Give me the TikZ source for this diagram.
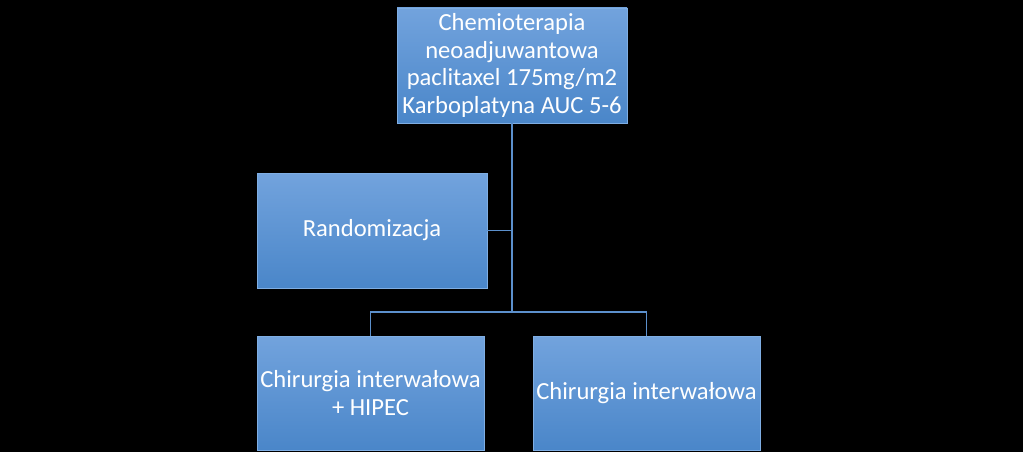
\documentclass[tikz,border=0pt]{standalone}
\usepackage{fontspec}
\setmainfont{Carlito}
\definecolor{boxtop}{HTML}{72A3DD}
\definecolor{boxbot}{HTML}{4A86C9}
\definecolor{boxline}{HTML}{7FAEE3}
\definecolor{connc}{HTML}{5C90CC}
\tikzset{
  box/.style={rectangle, draw=boxline, line width=0.8pt, top color=boxtop, bottom color=boxbot,
    text=white, align=center, inner sep=0pt,
    font=\fontsize{24.6}{27.7}\selectfont},
  conn/.style={draw=connc, line width=1.3pt}
}
\begin{document}
\begin{tikzpicture}[x=1pt,y=-1pt]
\fill[black] (0,0) rectangle (1023,452);
\useasboundingbox (0,0) rectangle (1023,452);
\node[box, minimum width=230pt, minimum height=115pt] (top) at (512,65.5)
  {Chemioterapia\\neoadjuwantowa\\paclitaxel 175mg/m2\\Karboplatyna AUC 5-6};
\node[box, minimum width=230pt, minimum height=115pt] (rand) at (372,230.5) {Randomizacja};
\node[box, minimum width=227pt, minimum height=114pt] (bl) at (370.5,393) {Chirurgia interwałowa\\+ HIPEC};
\node[box, minimum width=227pt, minimum height=114pt] (br) at (646.5,393) {Chirurgia interwałowa};
\coordinate (hub) at (512,312);
\draw[conn] (top.south) -- (hub);
\draw[conn] (rand.east) -- (rand.east -| top.south);
\draw[conn] (bl.north) |- (hub) -| (br.north);
\end{tikzpicture}
\end{document}
